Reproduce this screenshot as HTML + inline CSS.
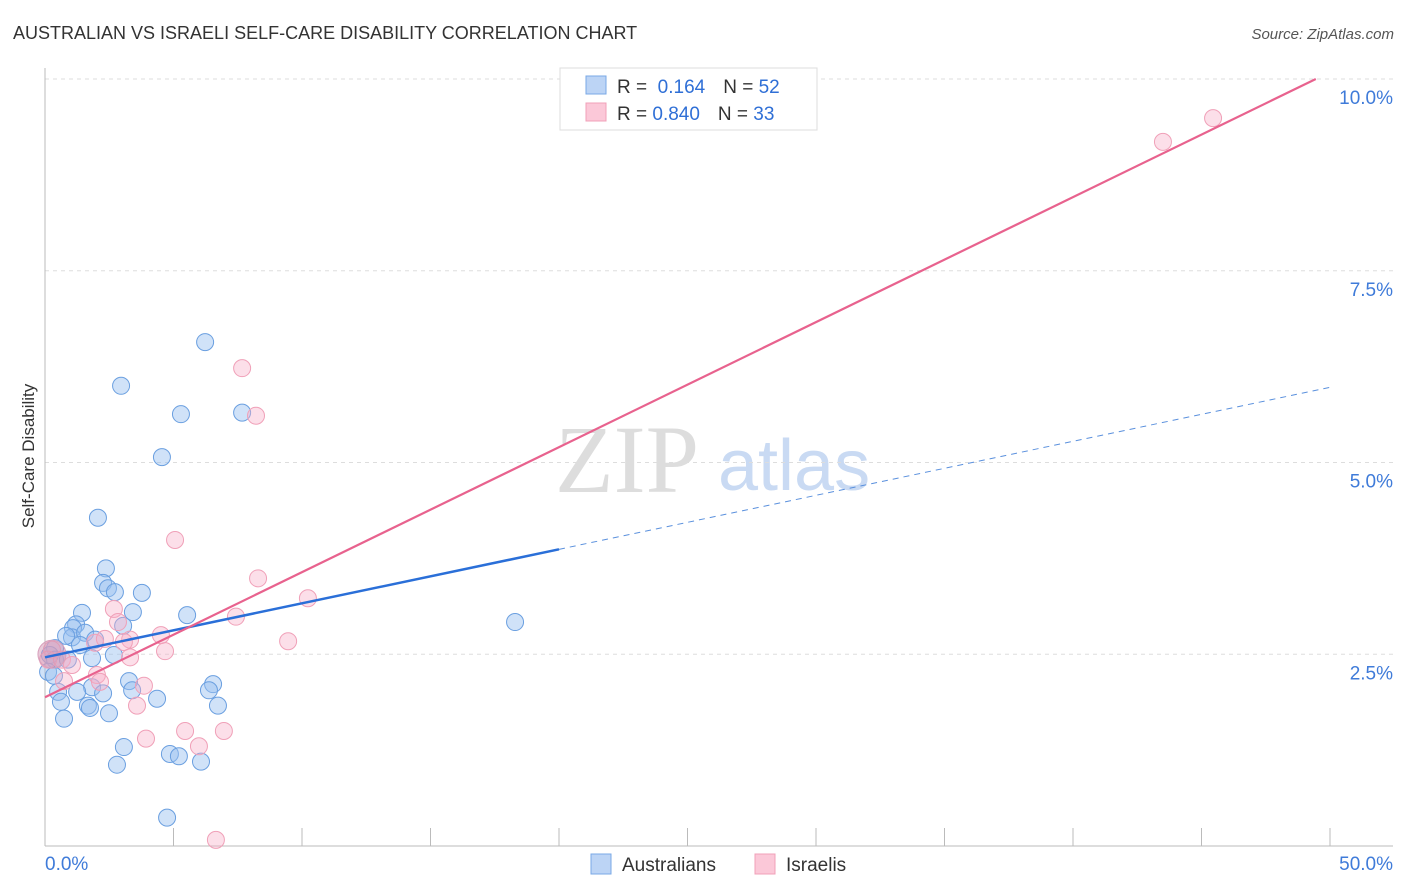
<!DOCTYPE html>
<html><head><meta charset="utf-8">
<style>
body{margin:0;background:#fff;font-family:"Liberation Sans",sans-serif;}
#wrap{position:relative;width:1406px;height:892px;overflow:hidden;}
</style></head>
<body><div id="wrap">
<svg id="svg" width="1406" height="892">
<text x="13" y="39" font-size="18" fill="#333">AUSTRALIAN VS ISRAELI SELF-CARE DISABILITY CORRELATION CHART</text>
<text x="1394" y="39" font-size="15" fill="#555" text-anchor="end" font-style="italic">Source: ZipAtlas.com</text>
<text x="34" y="456" font-size="17" fill="#333" text-anchor="middle" transform="rotate(-90 34 456)">Self-Care Disability</text>
<text x="555" y="492" font-size="96" fill="#ddd" font-family="Liberation Serif,serif">ZIP</text>
<text x="718" y="490" font-size="72" fill="#c9daf3">atlas</text>
<g id="grid"></g><g id="axes"></g><g id="pts"></g><g id="lines"></g>
<g>
<rect x="560" y="68" width="257" height="62" fill="#fff" stroke="#ddd"/>
<rect x="586" y="76" width="20" height="18" fill="#bcd4f5" stroke="#7aa8e6"/>
<rect x="586" y="103" width="20" height="18" fill="#fbc8d8" stroke="#f0a0b8"/>
<text x="617" y="93" font-size="19" fill="#333">R = <tspan fill="#2f6fd6">&#160;0.164</tspan><tspan dx="18">N = </tspan><tspan fill="#2f6fd6">52</tspan></text>
<text x="617" y="120" font-size="19" fill="#333">R = <tspan fill="#2f6fd6">0.840</tspan><tspan dx="18">N = </tspan><tspan fill="#2f6fd6">33</tspan></text>
</g>
<g>
<rect x="591" y="854" width="20" height="20" fill="#bcd4f5" stroke="#7aa8e6"/>
<text x="622" y="871" font-size="19" fill="#333">Australians</text>
<rect x="755" y="854" width="20" height="20" fill="#fbc8d8" stroke="#f0a0b8"/>
<text x="786" y="871" font-size="19" fill="#333">Israelis</text>
</g>
</svg></div>
<script>
const blueX=[6.23,2.96,5.29,7.67,4.55,2.06,2.37,2.26,2.45,2.72,3.77,3.42,1.44,5.53,1.21,1.09,1.05,0.82,1.56,1.95,3.04,1.36,0.39,0.19,0.39,1.83,2.68,0.89,0.12,0.35,6.54,3.27,1.83,6.38,3.39,1.25,0.51,2.26,4.36,0.62,1.67,1.75,6.73,2.49,0.74,3.07,4.86,5.21,6.07,2.80,4.75,18.29];
const blueY=[6.57,6.00,5.63,5.65,5.07,4.28,3.62,3.43,3.36,3.31,3.30,3.05,3.04,3.01,2.89,2.84,2.72,2.74,2.78,2.69,2.87,2.62,2.58,2.49,2.43,2.45,2.49,2.43,2.27,2.22,2.11,2.15,2.07,2.03,2.03,2.01,2.01,1.99,1.92,1.88,1.83,1.80,1.83,1.73,1.66,1.29,1.20,1.17,1.10,1.06,0.37,2.92];
const pinkX=[45.45,43.50,7.67,8.21,5.06,8.29,10.23,2.68,7.43,2.84,9.46,4.51,4.67,1.95,3.31,3.07,2.33,0.27,3.31,0.12,0.66,1.05,2.02,2.14,3.85,0.74,3.58,5.45,3.93,6.96,5.99,6.65];
const pinkY=[9.49,9.18,6.23,5.61,3.99,3.49,3.23,3.09,2.99,2.92,2.67,2.75,2.54,2.65,2.69,2.66,2.70,2.56,2.46,2.43,2.43,2.36,2.23,2.14,2.09,2.15,1.83,1.50,1.40,1.50,1.30,0.08];
const yTicks=[2.5,5.0,7.5,10.0];
const xTicks=[5,10,15,20,25,30,35,40,45,50];
const blueTrend=[2.46,0.0704]; // intercept, slope
const pinkTrend=[1.94,0.163];
const NS="http://www.w3.org/2000/svg";
const sx=v=>45+v*25.7, sy=v=>846-v*76.7;
function mk(tag,attrs,parent){const e=document.createElementNS(NS,tag);for(const k in attrs)e.setAttribute(k,attrs[k]);document.getElementById(parent).appendChild(e);return e;}
yTicks.forEach(t=>{
  const l=mk('line',{x1:45,x2:1393,y1:sy(t),y2:sy(t),stroke:'#ddd','stroke-dasharray':'4,4'},'grid');
  
  
  const tx=mk('text',{x:1393,y:sy(t)+25,'font-size':19,fill:'#3f7bd9','text-anchor':'end'},'grid');
  tx.textContent=t.toFixed(1)+'%';
  
  
});
const la=mk('line',{x1:45,x2:45,y1:68,y2:846,stroke:'#bbb'},'axes');


const lb=mk('line',{x1:45,x2:1393,y1:846,y2:846,stroke:'#bbb'},'axes');


xTicks.forEach(t=>{
  const l=mk('line',{x1:sx(t),x2:sx(t),y1:828,y2:846,stroke:'#bbb'},'axes');
  
  
});
[[0,'start',45],[50,'end',1393]].forEach(([v,a,x])=>{
  const t=mk('text',{x:x,y:870,'font-size':19,fill:'#3f7bd9','text-anchor':a},'axes');
  t.textContent=v.toFixed(1)+'%';
  
  
});
blueX.forEach((x,i)=>{
  const c=mk('circle',{cx:sx(x),cy:sy(blueY[i]),r:8.5,fill:'rgba(150,190,240,0.45)',stroke:'#6a9fe0','stroke-width':1},'pts');
  
  
});
pinkX.forEach((x,i)=>{
  const c=mk('circle',{cx:sx(x),cy:sy(pinkY[i]),r:8.5,fill:'rgba(248,175,200,0.4)',stroke:'#f0a0b8','stroke-width':1},'pts');
  
  
});
const big=mk('circle',{cx:sx(0.27),cy:sy(2.5),r:14,fill:'rgba(210,150,180,0.5)',stroke:'#d8a0bc'},'pts');


const b1=mk('line',{x1:sx(0),y1:sy(blueTrend[0]),x2:sx(20),y2:sy(blueTrend[0]+blueTrend[1]*20),stroke:'#2a6fd8','stroke-width':2.5},'lines');


const b2=mk('line',{x1:sx(20),y1:sy(blueTrend[0]+blueTrend[1]*20),x2:sx(50),y2:sy(blueTrend[0]+blueTrend[1]*50),stroke:'#5a90dd','stroke-width':1,'stroke-dasharray':'6,5'},'lines');


const xe=(10-pinkTrend[0])/pinkTrend[1];
const p1=mk('line',{x1:sx(0),y1:sy(pinkTrend[0]),x2:sx(xe),y2:sy(10),stroke:'#e8628e','stroke-width':2.2},'lines');


</script></body></html>
